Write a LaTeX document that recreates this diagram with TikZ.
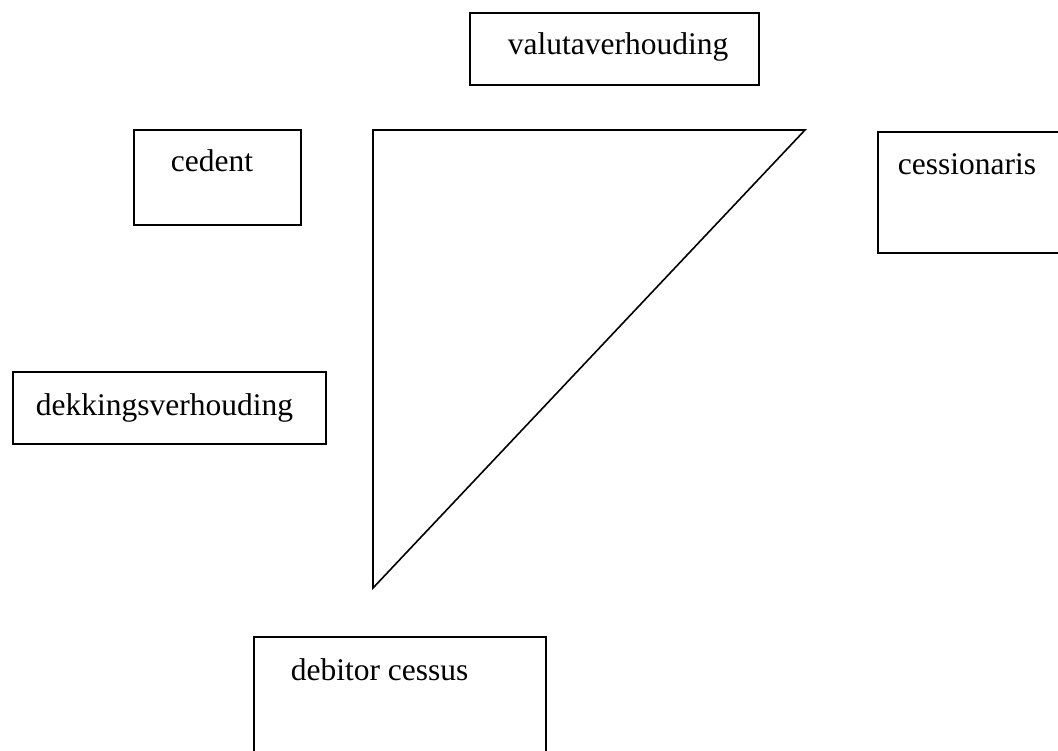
\documentclass[tikz,border=0pt]{standalone}
\usepackage{fontspec}
\setmainfont{Liberation Serif}
\usepackage{tikz}
\usetikzlibrary{positioning}

\begin{document}
\begin{tikzpicture}[x=1pt, y=-1pt, line width=1.6pt,
		box/.style={draw, anchor=north west, inner sep=0pt},
		lbl/.style={anchor=base west, inner sep=0pt, font=\fontsize{31.5}{36}\selectfont}]
	\clip (0,0) rectangle (1058,751);
	% kaders
	\node[box, minimum width=289, minimum height=72] (valuta) at (469,12) {};
	\node[box, minimum width=167, minimum height=95] (cedent) at (133,129) {};
	\node[box, minimum width=200, minimum height=121] (cess) at (877,131) {};
	\node[box, minimum width=313, minimum height=72] (dekking) at (12,371) {};
	\node[box, minimum width=292, minimum height=140] (debitor) at (253,636) {};
	% teksten
	\node[lbl] (tvaluta) at (507,55) {valutaverhouding};
	\node[lbl] (tcedent) at (170,172) {cedent};
	\node[lbl] (tcess) at (897,175) {cessionaris};
	\node[lbl] (tdekking) at (35,415) {dekkingsverhouding};
	\node[lbl] (tdebitor) at (290,680) {debitor cessus};
	% driehoek
	\draw (373,130) -- (805,130) -- (373,588) -- cycle;
\end{tikzpicture}
\end{document}
